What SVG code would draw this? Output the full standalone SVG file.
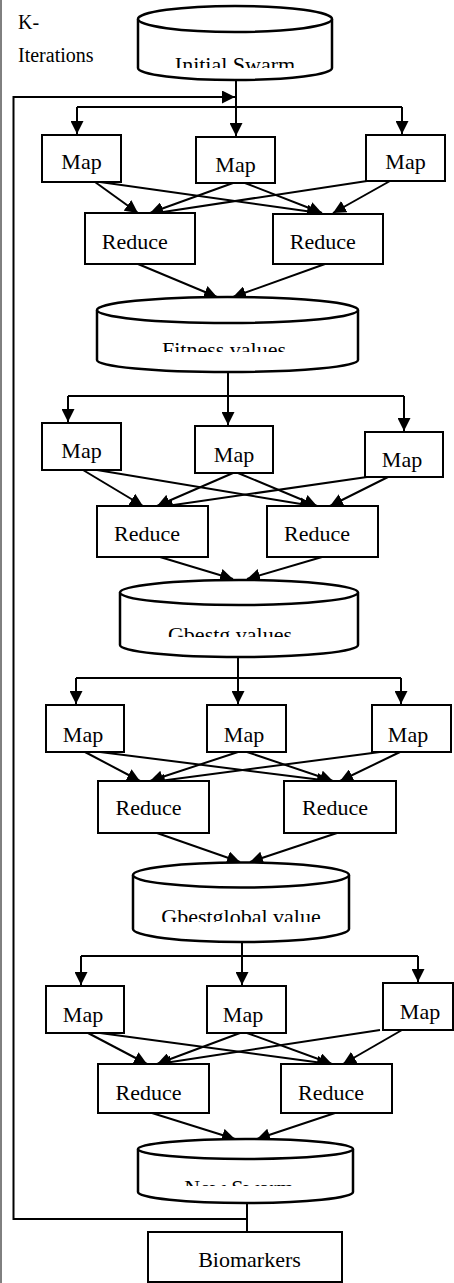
<svg xmlns="http://www.w3.org/2000/svg" width="454" height="1283" viewBox="0 0 454 1283">
<defs>
<style>
.box{fill:#fff;stroke:#000;stroke-width:2}
.cyl{fill:#fff;stroke:#000;stroke-width:2.5}
.lbl{font-family:"Liberation Serif","Times New Roman",serif;font-size:22px;fill:#000;text-anchor:middle}
.side{font-family:"Liberation Serif","Times New Roman",serif;font-size:20px;fill:#000}
.ln{fill:none;stroke:#000;stroke-width:2}
.arr{fill:none;stroke:#000;stroke-width:2;marker-end:url(#ah)}
</style>
<marker id="ah" markerUnits="userSpaceOnUse" markerWidth="13" markerHeight="13" refX="13" refY="6.5" orient="auto"><path d="M0,0 L13,6.5 L0,13 z" fill="#000"/></marker>
<clipPath id="c1"><rect x="130" y="30" width="210" height="38"/></clipPath>
<clipPath id="c2"><rect x="90" y="320" width="275" height="32"/></clipPath>
<clipPath id="c3"><rect x="110" y="605" width="255" height="32"/></clipPath>
<clipPath id="c4"><rect x="125" y="888" width="230" height="34"/></clipPath>
<clipPath id="c5"><rect x="130" y="1160" width="230" height="26"/></clipPath>
</defs>
<rect width="454" height="1283" fill="#fff"/>
<line x1="1" y1="0" x2="1" y2="1283" stroke="#000" stroke-width="1"/>
<g id="k-iterations"><text class="side" x="18" y="29">K-</text><text class="side" x="18" y="62">Iterations</text></g>

<g id="connectors">
<line class="ln" x1="236" y1="80" x2="236" y2="107"/>
<line class="ln" x1="77" y1="107" x2="402" y2="107"/>
<line class="arr" x1="77" y1="107" x2="77" y2="134"/>
<line class="arr" x1="236" y1="107" x2="236" y2="136"/>
<line class="arr" x1="402" y1="107" x2="402" y2="134"/>
<polyline class="arr" points="247,1203 247,1219 13.5,1219 13.5,97 235,97"/>
<line class="ln" x1="247" y1="1219" x2="247" y2="1232"/>
<line class="arr" x1="95" y1="182" x2="138" y2="213"/>
<line class="arr" x1="100" y1="182" x2="320" y2="213"/>
<line class="arr" x1="233" y1="183" x2="150" y2="213"/>
<line class="arr" x1="245" y1="183" x2="322" y2="213"/>
<line class="arr" x1="367" y1="181" x2="150" y2="214"/>
<line class="arr" x1="390" y1="181" x2="333" y2="213"/>
<line class="arr" x1="138" y1="264" x2="217" y2="297"/>
<line class="arr" x1="325" y1="264" x2="233" y2="297"/>
<line class="ln" x1="228" y1="372" x2="228" y2="396"/>
<line class="ln" x1="68" y1="396" x2="404" y2="396"/>
<line class="arr" x1="68" y1="396" x2="68" y2="422"/>
<line class="arr" x1="228" y1="396" x2="228" y2="425"/>
<line class="arr" x1="404" y1="396" x2="404" y2="431"/>
<line class="arr" x1="83" y1="470" x2="143" y2="506"/>
<line class="arr" x1="97" y1="470" x2="313" y2="506"/>
<line class="arr" x1="233" y1="473" x2="157" y2="506"/>
<line class="arr" x1="238" y1="473" x2="317" y2="506"/>
<line class="arr" x1="367" y1="477" x2="160" y2="507"/>
<line class="arr" x1="388" y1="477" x2="330" y2="506"/>
<line class="arr" x1="160" y1="557" x2="233" y2="579"/>
<line class="arr" x1="322" y1="557" x2="247" y2="579"/>
<line class="ln" x1="238" y1="657" x2="238" y2="678"/>
<line class="ln" x1="76" y1="678" x2="401" y2="678"/>
<line class="arr" x1="76" y1="678" x2="76" y2="704"/>
<line class="arr" x1="238" y1="678" x2="238" y2="704"/>
<line class="arr" x1="401" y1="678" x2="401" y2="704"/>
<line class="arr" x1="85" y1="752" x2="140" y2="781"/>
<line class="arr" x1="100" y1="752" x2="330" y2="781"/>
<line class="arr" x1="238" y1="752" x2="150" y2="781"/>
<line class="arr" x1="247" y1="752" x2="333" y2="781"/>
<line class="arr" x1="380" y1="752" x2="152" y2="782"/>
<line class="arr" x1="400" y1="752" x2="340" y2="781"/>
<line class="arr" x1="157" y1="833" x2="240" y2="862"/>
<line class="arr" x1="337" y1="833" x2="250" y2="862"/>
<line class="ln" x1="242" y1="942" x2="242" y2="956"/>
<line class="ln" x1="81" y1="956" x2="418" y2="956"/>
<line class="arr" x1="81" y1="956" x2="81" y2="985"/>
<line class="arr" x1="242" y1="956" x2="242" y2="985"/>
<line class="arr" x1="418" y1="956" x2="418" y2="982"/>
<line class="arr" x1="88" y1="1033" x2="147" y2="1064"/>
<line class="arr" x1="100" y1="1033" x2="330" y2="1064"/>
<line class="arr" x1="240" y1="1033" x2="157" y2="1064"/>
<line class="arr" x1="247" y1="1033" x2="332" y2="1064"/>
<line class="arr" x1="380" y1="1030" x2="158" y2="1064"/>
<line class="arr" x1="402" y1="1030" x2="343" y2="1064"/>
<line class="arr" x1="152" y1="1113" x2="235" y2="1139"/>
<line class="arr" x1="335" y1="1113" x2="257" y2="1139"/>
</g>

<g id="initial-swarm"><path class="cyl" d="M138,19 L138,68 A97,12 0 0 0 332,68 L332,19"/><ellipse class="cyl" cx="235" cy="19" rx="97" ry="13"/><text class="lbl" x="235" y="72" clip-path="url(#c1)">Initial Swarm</text></g>

<g id="map-1a"><rect class="box" x="42" y="135" width="79" height="47"/><text class="lbl" x="81.5" y="169">Map</text></g>
<g id="map-1b"><rect class="box" x="196" y="137" width="79" height="46"/><text class="lbl" x="235.5" y="172">Map</text></g>
<g id="map-1c"><rect class="box" x="366" y="135" width="79" height="46"/><text class="lbl" x="405.5" y="169">Map</text></g>
<g id="reduce-1a"><rect class="box" x="85" y="213" width="110" height="51"/><text class="lbl" x="134.7" y="249">Reduce</text></g>
<g id="reduce-1b"><rect class="box" x="273" y="214" width="110" height="50"/><text class="lbl" x="322.7" y="249">Reduce</text></g>

<g id="fitness-values"><path class="cyl" d="M97,310 L97,360 A130.5,12 0 0 0 358,360 L358,310"/><ellipse class="cyl" cx="227.5" cy="310" rx="130.5" ry="13"/><text class="lbl" x="224" y="357" clip-path="url(#c2)">Fitness values</text></g>

<g id="map-2a"><rect class="box" x="42" y="423" width="79" height="47"/><text class="lbl" x="81.5" y="458">Map</text></g>
<g id="map-2b"><rect class="box" x="195" y="426" width="78" height="47"/><text class="lbl" x="234" y="462">Map</text></g>
<g id="map-2c"><rect class="box" x="365" y="432" width="78" height="45"/><text class="lbl" x="402" y="467">Map</text></g>
<g id="reduce-2a"><rect class="box" x="97" y="506" width="111" height="51"/><text class="lbl" x="147" y="541">Reduce</text></g>
<g id="reduce-2b"><rect class="box" x="267" y="506" width="111" height="51"/><text class="lbl" x="317" y="541">Reduce</text></g>

<g id="gbestg-values"><path class="cyl" d="M120,592.5 L120,645 A119,12 0 0 0 358,645 L358,592.5"/><ellipse class="cyl" cx="239" cy="592.5" rx="119" ry="12.5"/><text class="lbl" x="230" y="642" clip-path="url(#c3)">Gbestg values</text></g>

<g id="map-3a"><rect class="box" x="46" y="705" width="78" height="47"/><text class="lbl" x="83" y="742">Map</text></g>
<g id="map-3b"><rect class="box" x="207" y="705" width="79" height="47"/><text class="lbl" x="244" y="742">Map</text></g>
<g id="map-3c"><rect class="box" x="372" y="705" width="79" height="47"/><text class="lbl" x="408" y="742">Map</text></g>
<g id="reduce-3a"><rect class="box" x="98" y="781" width="111" height="52"/><text class="lbl" x="148.5" y="815">Reduce</text></g>
<g id="reduce-3b"><rect class="box" x="284" y="781" width="112" height="52"/><text class="lbl" x="335" y="815">Reduce</text></g>

<g id="gbestglobal-value"><path class="cyl" d="M133,875 L133,929 A108,13 0 0 0 349,929 L349,875"/><ellipse class="cyl" cx="241" cy="875" rx="108" ry="12.5"/><text class="lbl" x="241" y="924" clip-path="url(#c4)">Gbestglobal value</text></g>

<g id="map-4a"><rect class="box" x="46" y="986" width="78" height="47"/><text class="lbl" x="83" y="1022">Map</text></g>
<g id="map-4b"><rect class="box" x="207" y="986" width="79" height="47"/><text class="lbl" x="243" y="1022">Map</text></g>
<g id="map-4c"><rect class="box" x="383" y="983" width="70" height="47"/><text class="lbl" x="420" y="1019">Map</text></g>
<g id="reduce-4a"><rect class="box" x="98" y="1064" width="111" height="49"/><text class="lbl" x="148.5" y="1100">Reduce</text></g>
<g id="reduce-4b"><rect class="box" x="281" y="1064" width="111" height="49"/><text class="lbl" x="331" y="1100">Reduce</text></g>

<g id="new-swarm"><path class="cyl" d="M138,1149 L138,1192 A107.5,11 0 0 0 353,1192 L353,1149"/><ellipse class="cyl" cx="245.5" cy="1149" rx="107.5" ry="10"/><text class="lbl" x="239" y="1195" clip-path="url(#c5)">New Swarm</text></g>

<g id="biomarkers"><rect class="box" x="148" y="1232" width="194" height="50"/><text class="lbl" x="249.5" y="1267">Biomarkers</text></g>
</svg>
